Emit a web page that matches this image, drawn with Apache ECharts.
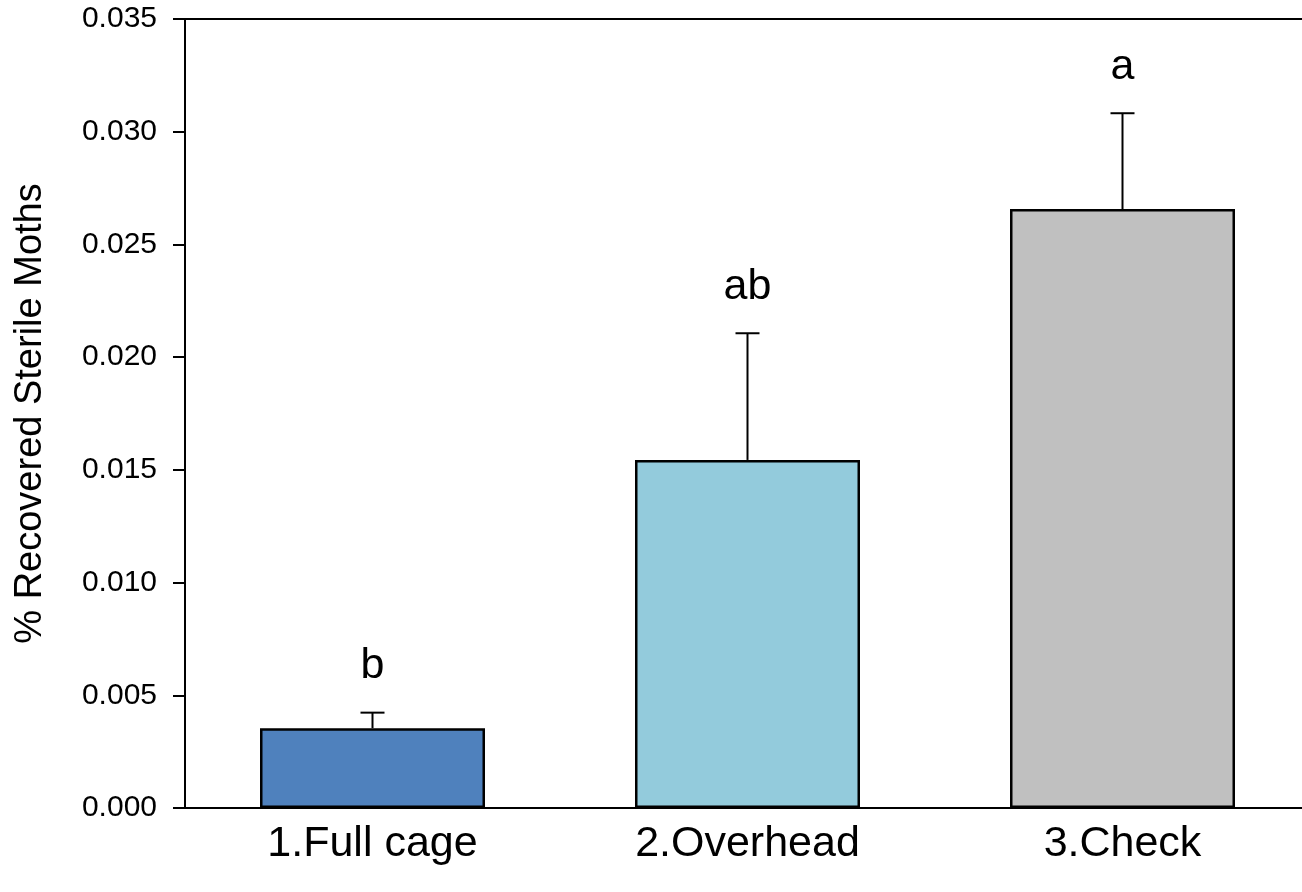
<!DOCTYPE html>
<html>
<head>
<meta charset="utf-8">
<script src="https://cdn.jsdelivr.net/npm/echarts@6/dist/echarts.min.js"></script>
<style>
  html, body { margin: 0; padding: 0; background: #fff; }
  #chart { width: 1302px; height: 892px; }
</style>
</head>
<body>
<div id="chart"></div>
<script>
const categories = ['1.Full cage', '2.Overhead', '3.Check'];
const means = [0.00354, 0.01544, 0.02657];
const errors = [0.00069, 0.00562, 0.00425];
const letters = ['b', 'ab', 'a'];
const barColors = ['#4f81bd', '#93cbdc', '#c0c0c0'];

const font = "'Liberation Sans', Arial, sans-serif";

const chart = echarts.init(document.getElementById('chart'));
chart.setOption({
    animation: false,
    grid: {
        left: 185,
        top: 19,
        width: 1125,
        bottom: 84,
        outerBoundsMode: 'none',
        containLabel: false,
        show: true,
        borderColor: '#000',
        borderWidth: 2
    },
    xAxis: {
        type: 'category',
        data: categories,
        axisLine: {lineStyle: {color: '#000', width: 2}},
        axisTick: {alignWithLabel: true, length: 12, lineStyle: {color: '#000', width: 2}},
        axisLabel: {
            color: '#000',
            fontFamily: font,
            fontSize: 43,
            margin: 15
        }
    },
    yAxis: {
        type: 'value',
        min: 0,
        max: 0.035,
        interval: 0.005,
        name: '% Recovered Sterile Moths',
        nameLocation: 'middle',
        nameGap: 135,
        nameTextStyle: {color: '#000', fontFamily: font, fontSize: 38},
        splitLine: {show: false},
        axisLine: {show: true, lineStyle: {color: '#000', width: 2}},
        axisTick: {show: true, length: 12, lineStyle: {color: '#000', width: 2}},
        axisLabel: {
            color: '#000',
            fontFamily: font,
            fontSize: 30,
            margin: 28,
            formatter: v => v.toFixed(3)
        }
    },
    series: [
        {
            type: 'bar',
            barWidth: '60%',
            data: means.map((v, i) => ({
                value: v,
                itemStyle: {color: barColors[i], borderColor: '#000', borderWidth: 2.5}
            }))
        },
        {
            type: 'custom',
            z: 5,
            data: means.map((v, i) => [i, v, v + errors[i]]),
            renderItem: (params, api) => {
                const i = params.dataIndex
                const base = api.coord([api.value(0), api.value(1)])
                const top = api.coord([api.value(0), api.value(2)])
                const cap = 12
                return {
                    type: 'group',
                    children: [
                        {
                            type: 'line',
                            shape: {x1: base[0], y1: base[1], x2: top[0], y2: top[1]},
                            style: {stroke: '#000', lineWidth: 2}
                        },
                        {
                            type: 'line',
                            shape: {x1: top[0] - cap, y1: top[1], x2: top[0] + cap, y2: top[1]},
                            style: {stroke: '#000', lineWidth: 2}
                        },
                        {
                            type: 'text',
                            style: {
                                x: top[0],
                                y: top[1] - 25,
                                text: letters[i],
                                fill: '#000',
                                font: '43px ' + font,
                                align: 'center',
                                verticalAlign: 'bottom'
                            }
                        }
                    ]
                }
            }
        }
    ]
});
</script>
</body>
</html>
